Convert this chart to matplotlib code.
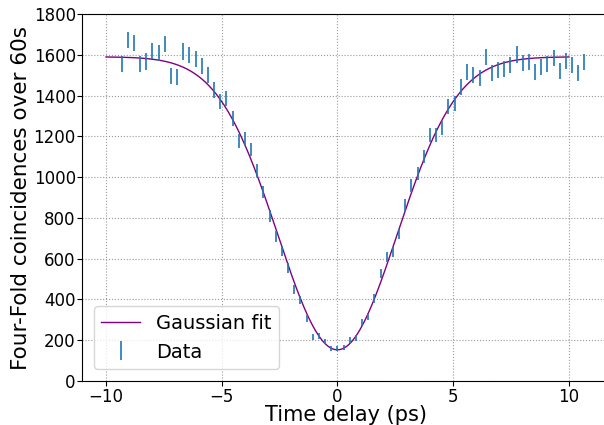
import numpy as np
import matplotlib
matplotlib.use("Agg")
import matplotlib.pyplot as plt

# Data: time delay (ps) and four-fold coincidence counts
delay = [-9.33, -9.06, -8.80, -8.53, -8.26, -8.00, -7.73, -7.46, -7.20, -6.93,
         -6.66, -6.40, -6.13, -5.86, -5.60, -5.33, -5.06, -4.80, -4.53, -4.26,
         -4.00, -3.73, -3.46, -3.20, -2.93, -2.66, -2.40, -2.13, -1.86, -1.60,
         -1.33, -1.06, -0.80, -0.53, -0.26, 0.00, 0.27, 0.54, 0.80, 1.07,
         1.34, 1.60, 1.87, 2.14, 2.40, 2.67, 2.94, 3.20, 3.47, 3.74,
         4.00, 4.27, 4.54, 4.80, 5.07, 5.34, 5.60, 5.87, 6.14, 6.40,
         6.67, 6.94, 7.20, 7.47, 7.74, 8.00, 8.27, 8.54, 8.80, 9.07,
         9.34, 9.60, 9.87, 10.14, 10.40, 10.67]
counts = [1556, 1672, 1657, 1554, 1567, 1618, 1608, 1652, 1495, 1492,
          1617, 1599, 1581, 1546, 1501, 1427, 1370, 1385, 1287, 1179,
          1187, 1136, 1033, 927, 808, 708, 639, 554, 450, 396,
          306, 216, 222, 193, 158, 161, 166, 203, 209, 286,
          318, 405, 528, 607, 633, 721, 865, 960, 1019, 1100,
          1205, 1205, 1242, 1347, 1362, 1443, 1514, 1501, 1485, 1589,
          1512, 1524, 1532, 1550, 1602, 1560, 1566, 1515, 1540, 1553,
          1584, 1522, 1568, 1548, 1510, 1564]

# Gaussian fit parameters
fit_baseline = 1590.0
fit_depth = 1437.0
fit_center = 0.0
fit_sigma = 2.58
fit_range = (-10.0, 10.0)

x_ticks = [-10, -5, 0, 5, 10]
y_ticks = [0, 200, 400, 600, 800, 1000, 1200, 1400, 1600, 1800]

delay = np.array(delay)
counts = np.array(counts, dtype=float)
errors = np.sqrt(counts)

xf = np.linspace(fit_range[0], fit_range[1], 500)
yf = fit_baseline - fit_depth * np.exp(-(xf - fit_center) ** 2 / (2 * fit_sigma ** 2))

fig = plt.figure(figsize=(6.04, 4.25), dpi=100)
ax = fig.add_axes([82 / 604, 1 - 381 / 425, 528 / 604, 367 / 425])

ax.plot(xf, yf, color='purple', lw=1.0, label='Gaussian fit')
ax.errorbar(delay, counts, yerr=errors, fmt='none', ecolor='#1f77b4',
            elinewidth=1.2, label='Data')

ax.set_xlim(-11.04, 11.78)
ax.set_ylim(0, 1800)
ax.set_xticks(x_ticks)
ax.set_yticks(y_ticks)
ax.grid(True, ls=':', color='#999999', lw=0.8)
ax.set_axisbelow(True)
ax.tick_params(labelsize=12)
ax.tick_params(axis='y', pad=1)
ax.tick_params(axis='x', pad=1.5)
ax.set_xlabel('Time delay (ps)', fontsize=15, labelpad=-1)
ax.set_ylabel('Four-Fold coincidences over 60s', fontsize=15.5, labelpad=2)
ax.legend(loc='lower left', fontsize=14, borderaxespad=0.6)

fig.savefig('out.png', dpi=100)
